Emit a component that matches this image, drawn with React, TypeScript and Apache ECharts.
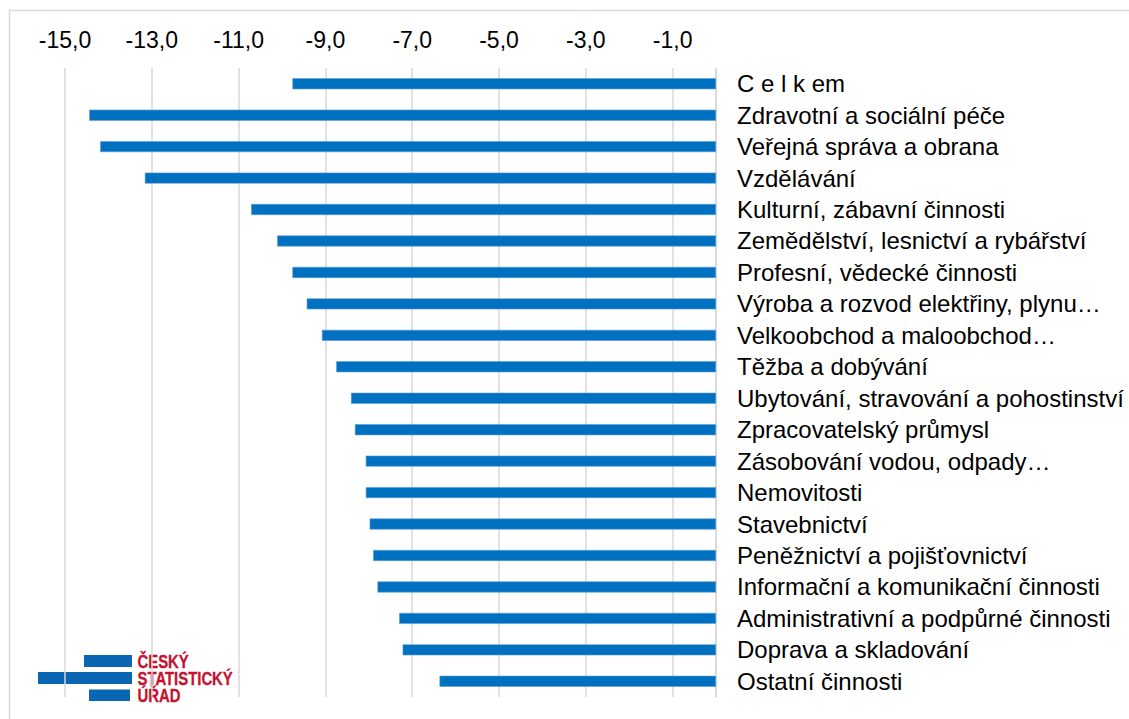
import React, { useEffect, useRef } from "react";
import * as echarts from "echarts";

const categories = [
  "C e l k em",
  "Zdravotní a sociální péče",
  "Veřejná správa a obrana",
  "Vzdělávání",
  "Kulturní, zábavní činnosti",
  "Zemědělství, lesnictví a rybářství",
  "Profesní, vědecké činnosti",
  "Výroba a rozvod elektřiny, plynu…",
  "Velkoobchod a maloobchod…",
  "Těžba a dobývání",
  "Ubytování, stravování a pohostinství",
  "Zpracovatelský průmysl",
  "Zásobování vodou, odpady…",
  "Nemovitosti",
  "Stavebnictví",
  "Peněžnictví a pojišťovnictví",
  "Informační a komunikační činnosti",
  "Administrativní a podpůrné činnosti",
  "Doprava a skladování",
  "Ostatní činnosti",
];

const values = [
  -9.76, -14.44, -14.19, -13.16, -10.71, -10.11, -9.76, -9.43, -9.08, -8.75,
  -8.41, -8.32, -8.07, -8.07, -7.98, -7.9, -7.8, -7.3, -7.22, -6.37,
];

const axisMin = -15;
const axisMax = 0;
const axisStep = 2;

const logoLines = ["ČESKÝ", "STATISTICKÝ", "ÚŘAD"];

export default function App() {
  const ref = useRef<HTMLDivElement>(null);
  useEffect(() => {
    if (!ref.current) return;
    const chart = echarts.init(ref.current, undefined, { renderer: "svg" });
    const font = "'Liberation Sans', Arial, sans-serif";
    chart.setOption({
      animation: false,
      backgroundColor: "#ffffff",
      grid: { left: 65, right: 413, top: 68, bottom: 22, containLabel: false },
      xAxis: {
        type: "value",
        position: "top",
        min: axisMin,
        max: axisMax,
        interval: axisStep,
        axisLine: { show: false },
        axisTick: { show: false },
        splitLine: { show: true, lineStyle: { color: "#d9d9d9", width: 1.5 } },
        axisLabel: {
          margin: 17,
          fontFamily: font,
          fontSize: 23,
          color: "#000000",
          formatter: (v: number) => (v === 0 ? "" : v.toFixed(1).replace(".", ",")),
        },
      },
      yAxis: {
        type: "category",
        position: "right",
        inverse: true,
        data: categories,
        axisLine: { show: true, lineStyle: { color: "#d9d9d9", width: 1.5 } },
        axisTick: { show: false },
        axisLabel: {
          margin: 21,
          fontFamily: font,
          fontSize: 24,
          color: "#000000",
          align: "left",
        },
      },
      series: [
        {
          type: "bar",
          data: values,
          barWidth: 11,
          itemStyle: { color: "#0070C0", borderColor: "#5b9bd5", borderWidth: 0.6 },
        },
      ],
      graphic: [
        {
          type: "rect",
          shape: { x: 9.5, y: 10.5, width: 1300, height: 900 },
          style: { fill: "none", stroke: "#d9d9d9", lineWidth: 1.5 },
          silent: true,
        },
        {
          type: "rect",
          shape: { x: 84, y: 655, width: 48, height: 12 },
          style: { fill: "#0a66b2" },
        },
        {
          type: "rect",
          shape: { x: 38, y: 672, width: 94, height: 12 },
          style: { fill: "#0a66b2" },
        },
        {
          type: "rect",
          shape: { x: 89, y: 689.5, width: 41, height: 11.5 },
          style: { fill: "#0a66b2" },
        },
        ...logoLines.map((t, i) => ({
          type: "text",
          x: 137.5,
          y: 661.5 + i * 17.2,
          scaleX: 0.85,
          style: {
            text: t,
            fill: "#c4122f",
            fontFamily: font,
            fontWeight: "bold",
            fontSize: 17.5,
            verticalAlign: "middle",
            align: "left",
            stroke: "#c4122f",
            lineWidth: 0.3,
          },
        })),
      ],
    });
    return () => chart.dispose();
  }, []);
  return (
    <div
      ref={ref}
      style={{ position: "absolute", left: 0, top: 0, width: 1129, height: 719 }}
    />
  );
}
